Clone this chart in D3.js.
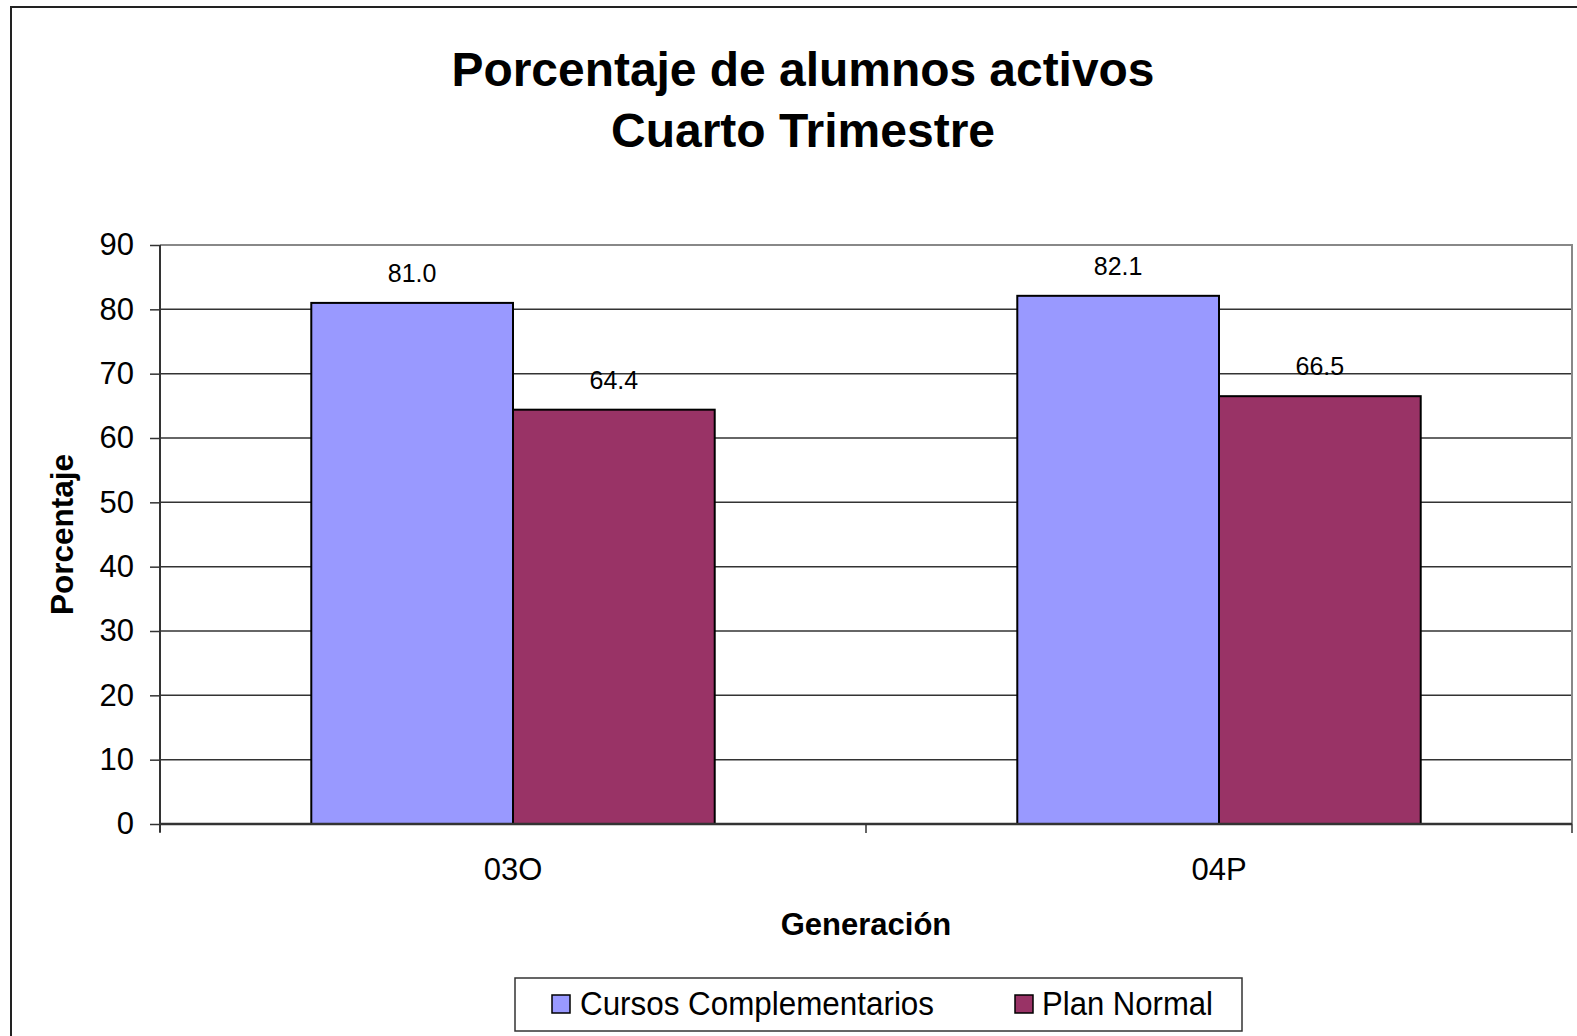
<!DOCTYPE html>
<html>
<head>
<meta charset="utf-8">
<script src="https://cdn.jsdelivr.net/npm/d3@7"></script>
<style>
  body { margin: 0; background: #fff; }
  svg { display: block; font-family: "Liberation Sans", Arial, sans-serif; }
</style>
</head>
<body>
<svg class="chart"></svg>
<script>
const categories = ['03O', '04P'];
const seriesNames = ['Cursos Complementarios', 'Plan Normal'];
const cursosValues = [81.0, 82.1];
const planValues = [64.4, 66.5];
const seriesColors = ['#9999FF', '#993366'];
const yTicks = [0, 10, 20, 30, 40, 50, 60, 70, 80, 90];

const width = 1577;
const height = 1036;
const plot = { left: 160, right: 1572, top: 245, bottom: 824 };

const svg = d3.select('.chart')
  .attr('width', width)
  .attr('height', height);

// outer chart border (runs off the right/bottom edge like the original)
svg.append('rect')
  .attr('x', 11).attr('y', 7)
  .attr('width', 1600).attr('height', 1060)
  .attr('fill', 'none')
  .attr('stroke', '#222')
  .attr('stroke-width', 2);

const x = d3.scaleBand()
  .domain(categories)
  .range([plot.left, plot.right]);

// gap width 150% -> bars take 2 of 3.5 units in each category
const inner = d3.scaleBand()
  .domain(seriesNames)
  .range([x.bandwidth() * (0.75 / 3.5), x.bandwidth() * (2.75 / 3.5)]);

const y = d3.scaleLinear()
  .domain([0, 90])
  .range([plot.bottom, plot.top]);

// gridlines
svg.append('g')
  .selectAll('line')
  .data(yTicks.filter(t => t > 0 && t < 90))
  .enter()
  .append('line')
  .attr('x1', plot.left).attr('x2', plot.right)
  .attr('y1', d => y(d)).attr('y2', d => y(d))
  .attr('stroke', '#333')
  .attr('stroke-width', 1.5);

// plot area border (top + right)
svg.append('path')
  .attr('d', `M${plot.left},${y(90)}H${plot.right}V${plot.bottom}`)
  .attr('fill', 'none')
  .attr('stroke', '#888')
  .attr('stroke-width', 2);

// bars
const rows = categories.map((c, i) => ({ cat: c, vals: [cursosValues[i], planValues[i]] }));
const groups = svg.append('g')
  .selectAll('g')
  .data(rows)
  .enter()
  .append('g')
  .attr('transform', d => `translate(${x(d.cat)},0)`);

groups.selectAll('rect')
  .data(d => d.vals.map((v, j) => ({ name: seriesNames[j], v, j })))
  .enter()
  .append('rect')
  .attr('x', d => inner(d.name))
  .attr('width', inner.bandwidth())
  .attr('y', d => y(d.v))
  .attr('height', d => y(0) - y(d.v))
  .attr('fill', d => seriesColors[d.j])
  .attr('stroke', '#000')
  .attr('stroke-width', 2);

groups.selectAll('text')
  .data(d => d.vals.map((v, j) => ({ name: seriesNames[j], v, j })))
  .enter()
  .append('text')
  .attr('x', d => inner(d.name) + inner.bandwidth() / 2)
  .attr('y', d => y(d.v) - 21)
  .attr('text-anchor', 'middle')
  .attr('font-size', 25)
  .text(d => d.v.toFixed(1));

// y axis
const yAxis = svg.append('g')
  .attr('transform', `translate(${plot.left},0)`)
  .call(d3.axisLeft(y).tickValues(yTicks).tickSize(10).tickPadding(16));
yAxis.select('.domain').attr('stroke', '#333').attr('stroke-width', 2)
  .attr('d', `M0,${plot.top}V${plot.bottom + 8}`);
yAxis.selectAll('.tick line').attr('stroke', '#333').attr('stroke-width', 1.5);
yAxis.selectAll('.tick text').attr('font-size', 31).attr('fill', '#000')
  .attr('font-family', '"Liberation Sans", Arial, sans-serif');

// x axis
const xAxis = svg.append('g')
  .attr('transform', `translate(0,${plot.bottom})`)
  .call(d3.axisBottom(x).tickSize(0).tickPadding(34));
xAxis.select('.domain').attr('stroke', '#333').attr('stroke-width', 2.5)
  .attr('d', `M${plot.left},0H${plot.right}`);
xAxis.selectAll('.tick text').attr('font-size', 31).attr('fill', '#000')
  .attr('font-family', '"Liberation Sans", Arial, sans-serif');

svg.append('g')
  .selectAll('line')
  .data([plot.left, (plot.left + plot.right) / 2, plot.right])
  .enter()
  .append('line')
  .attr('x1', d => d).attr('x2', d => d)
  .attr('y1', plot.bottom).attr('y2', plot.bottom + 9)
  .attr('stroke', '#333')
  .attr('stroke-width', 1.5);

// titles
const title = svg.append('text')
  .attr('text-anchor', 'middle')
  .attr('font-weight', 'bold')
  .attr('font-size', 48);
title.append('tspan').attr('x', 803).attr('y', 86)
  .attr('textLength', 703).attr('lengthAdjust', 'spacingAndGlyphs')
  .text('Porcentaje de alumnos activos');
title.append('tspan').attr('x', 803).attr('y', 147)
  .attr('textLength', 384).attr('lengthAdjust', 'spacingAndGlyphs')
  .text('Cuarto Trimestre');

svg.append('text')
  .attr('x', (plot.left + plot.right) / 2)
  .attr('y', 935)
  .attr('text-anchor', 'middle')
  .attr('font-weight', 'bold')
  .attr('font-size', 31)
  .text('Generación');

svg.append('text')
  .attr('transform', `translate(73,${(plot.top + plot.bottom) / 2}) rotate(-90)`)
  .attr('text-anchor', 'middle')
  .attr('font-weight', 'bold')
  .attr('font-size', 31.5)
  .text('Porcentaje');

// legend
const legend = svg.append('g');
legend.append('rect')
  .attr('x', 515).attr('y', 978)
  .attr('width', 727).attr('height', 53)
  .attr('fill', '#fff')
  .attr('stroke', '#333')
  .attr('stroke-width', 1.5);

const legendItems = [
  { name: seriesNames[0], color: seriesColors[0], sx: 552, tx: 580, tw: 354 },
  { name: seriesNames[1], color: seriesColors[1], sx: 1015, tx: 1042, tw: 171 },
];
legendItems.forEach((d) => {
  legend.append('rect')
    .attr('x', d.sx).attr('y', 995)
    .attr('width', 18).attr('height', 18)
    .attr('fill', d.color)
    .attr('stroke', '#000')
    .attr('stroke-width', 1.5);
  legend.append('text')
    .attr('x', d.tx).attr('y', 1015)
    .attr('font-size', 33)
    .attr('textLength', d.tw)
    .attr('lengthAdjust', 'spacingAndGlyphs')
    .text(d.name);
});
</script>
</body>
</html>
